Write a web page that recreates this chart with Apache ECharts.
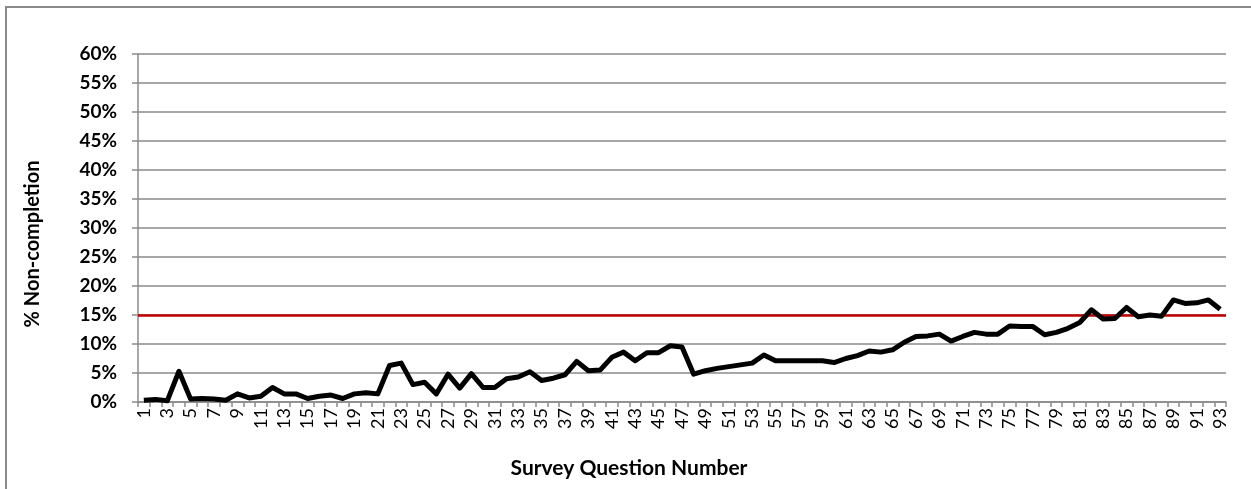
<!DOCTYPE html>
<html>
<head>
<meta charset="utf-8">
<script src="https://cdn.jsdelivr.net/npm/echarts@6/dist/echarts.min.js"></script>
<style>
html,body{margin:0;padding:0;background:#fff;}
#chart{width:1251px;height:489px;}
</style>
</head>
<body>
<div id="chart"></div>
<script>
// Survey question numbers 1..93
const categories = ["1","2","3","4","5","6","7","8","9","10","11","12","13","14","15","16","17","18","19","20","21","22","23","24","25","26","27","28","29","30","31","32","33","34","35","36","37","38","39","40","41","42","43","44","45","46","47","48","49","50","51","52","53","54","55","56","57","58","59","60","61","62","63","64","65","66","67","68","69","70","71","72","73","74","75","76","77","78","79","80","81","82","83","84","85","86","87","88","89","90","91","92","93"];
// % non-completion per question
const nonCompletion = [0.3,0.45,0.2,5.3,0.5,0.6,0.5,0.3,1.4,0.7,
  1.0,2.5,1.4,1.4,0.6,1.0,1.2,0.6,1.4,1.6,
  1.4,6.3,6.7,3.0,3.4,1.4,4.8,2.4,4.9,2.5,
  2.5,4.0,4.3,5.2,3.7,4.1,4.7,7.0,5.4,5.5,
  7.7,8.6,7.1,8.5,8.5,9.7,9.5,4.8,5.4,5.8,
  6.1,6.4,6.7,8.1,7.1,7.1,7.1,7.1,7.1,6.8,
  7.5,8.0,8.8,8.6,9.0,10.3,11.3,11.4,11.7,10.5,
  11.3,12.0,11.7,11.7,13.1,13.0,13.0,11.6,12.0,12.7,
  13.7,15.9,14.3,14.4,16.3,14.7,15.0,14.8,17.6,17.0,
  17.1,17.6,16.0];
const threshold = 15;
const yTicks = {min: 0, max: 60, interval: 5};

const FONT = 'Lato, "Open Sans", sans-serif';
const chart = echarts.init(document.getElementById('chart'));
chart.setOption({
  animation: false,
  backgroundColor: '#fff',
  grid: {left: 138, right: 25, top: 54, bottom: 87, containLabel: false},
  graphic: [
    {type: 'rect', shape: {x: 6, y: 7, width: 1400, height: 700},
     style: {fill: 'none', stroke: '#8a8a8a', lineWidth: 2}},
    {type: 'text', x: 33, y: 244, rotation: Math.PI / 2,
     style: {text: '% Non-completion', font: 'bold 20px ' + FONT, fill: '#000',
             textAlign: 'center', textVerticalAlign: 'middle'}},
    {type: 'text', x: 629, y: 468,
     style: {text: 'Survey Question Number', font: 'bold 21px ' + FONT, fill: '#000',
             textAlign: 'center', textVerticalAlign: 'middle'}}
  ],
  xAxis: {
    type: 'category',
    data: categories,
    boundaryGap: true,
    axisLine: {lineStyle: {color: '#8a8a8a', width: 1.5}},
    axisTick: {show: true, interval: 0, length: 5, lineStyle: {color: '#8a8a8a', width: 1.5}},
    axisLabel: {interval: 1, rotate: 90, margin: 6, color: '#000', fontFamily: FONT, fontSize: 18}
  },
  yAxis: {
    type: 'value',
    min: yTicks.min, max: yTicks.max, interval: yTicks.interval,
    axisLine: {show: true, lineStyle: {color: '#8a8a8a', width: 1.5}},
    axisTick: {show: true, length: 6, lineStyle: {color: '#8a8a8a', width: 1.5}},
    splitLine: {lineStyle: {color: '#8a8a8a', width: 1.5}},
    axisLabel: {formatter: '{value}%', margin: 21, color: '#000', fontFamily: FONT, fontWeight: 'bold', fontSize: 19}
  },
  series: [{
    type: 'line',
    data: nonCompletion,
    symbol: 'none',
    lineStyle: {color: '#000', width: 5, join: 'round'},
    z: 3,
    markLine: {
      silent: true,
      symbol: ['none', 'none'],
      label: {show: false},
      lineStyle: {color: '#c00000', width: 2.5, type: 'solid'},
      data: [{yAxis: threshold}],
      z: 2
    }
  }]
});
</script>
</body>
</html>
